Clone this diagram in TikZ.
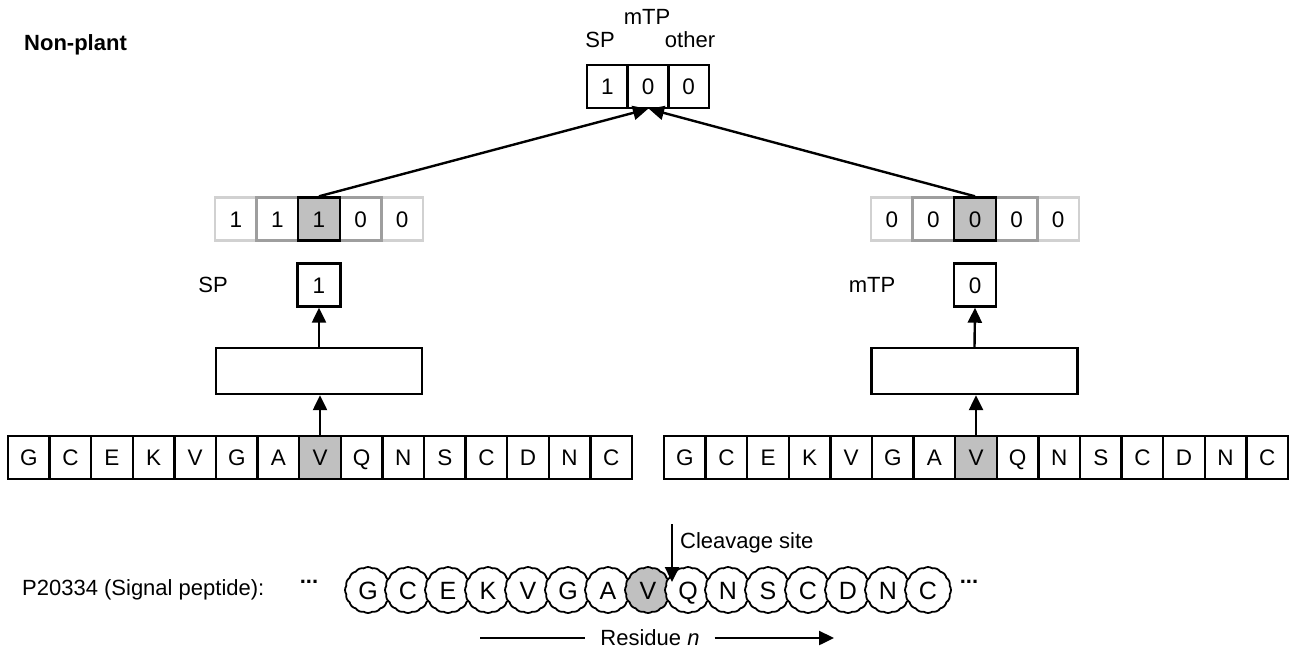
\documentclass[tikz,border=0pt]{standalone}
\usepackage{fontspec}
\setmainfont{Liberation Sans}
\usetikzlibrary{arrows.meta,shapes.geometric,shapes.symbols}
\definecolor{hl}{RGB}{192,192,192}
\begin{document}
\begin{tikzpicture}[x=1pt,y=-1pt,
  txt/.style={font=\fontsize{22}{26}\selectfont, inner sep=0pt},
  cell/.style={draw, line width=2.4pt, minimum width=41.6pt, minimum height=43pt, inner sep=0pt, font=\fontsize{22.5}{26}\selectfont, text height=16pt, text depth=0pt, fill=white},
  wide/.style={draw, line width=2.4pt, minimum width=206pt, minimum height=46pt, inner sep=0pt, fill=white},
  res/.style={draw, line width=1.8pt, cloud, cloud puffs=16, cloud puff arc=70, aspect=1, minimum width=46pt, minimum height=46pt, inner sep=0pt, font=\fontsize{25}{29}\selectfont, text height=18pt, text depth=0pt, fill=white, line join=round},
  arr/.style={line width=2.4pt, -{Triangle[length=15pt,width=14pt]}},
  lnk/.style={line width=2.4pt, -{Triangle[length=15pt,width=14pt]}, shorten >=-1pt}
]
\useasboundingbox (0,0) rectangle (1289,649);

% title
\node[txt, font=\fontsize{22}{26}\selectfont\bfseries, anchor=west] (title) at (24,45) {Non-plant};

% top box
\node[txt] (lsp) at (600,40) {SP};
\node[txt] (lmtp) at (647,17) {mTP};
\node[txt] (loth) at (690,40) {other};
\node[cell, minimum width=40.7pt] (t1) at (607.3,86.5) {1};
\node[cell, minimum width=40.7pt] (t2) at (648,86.5) {0};
\node[cell, minimum width=40.7pt] (t3) at (688.7,86.5) {0};

% middle rows (left)
\node[cell, draw=black!18] (lm1) at (235.8,219) {1};
\node[cell, draw=black!18] (lm5) at (402.2,219) {0};
\node[cell, draw=black!38] (lm2) at (277.4,219) {1};
\node[cell, draw=black!38] (lm4) at (360.6,219) {0};
\node[cell, fill=hl] (lm3) at (319,219) {1};
% middle rows (right)
\node[cell, draw=black!18] (rm1) at (891.8,219) {0};
\node[cell, draw=black!18] (rm5) at (1058.2,219) {0};
\node[cell, draw=black!38] (rm2) at (933.4,219) {0};
\node[cell, draw=black!38] (rm4) at (1016.6,219) {0};
\node[cell, fill=hl] (rm3) at (975,219) {0};

% single outputs
\node[txt] (spl) at (213,285) {SP};
\node[cell, minimum width=43pt, minimum height=43pt] (lo) at (319,285) {1};
\node[txt] (mtpl) at (872,285) {mTP};
\node[cell, minimum width=42pt, minimum height=43pt] (ro) at (975,285) {0};

% wide boxes
\node[wide] (lb) at (319,371) {};
\node[wide] (rb) at (974.5,371) {};

% sequences
\foreach \r [count=\i from 0] in {G,C,E,K,V,G,A,V,Q,N,S,C,D,N,C} {
  \ifnum\i=7 \def\f{hl}\else\def\f{white}\fi
  \node[cell, fill=\f] (ls\i) at (28.8+41.6*\i,457.5) {\r};
  \node[cell, fill=\f] (rs\i) at (684.8+41.6*\i,457.5) {\r};
}

% arrows
\draw[arr] (ls7.north) -- (ls7.north |- lb.south);
\draw[arr] (lb.north) -- (lo.south);
\draw[arr] (rs7.north) -- (rs7.north |- rb.south);
\draw[arr] (rb.north) -- (ro.south);
\draw[lnk] (lm3.north) -- ([xshift=-1pt]t2.south);
\draw[lnk] (rm3.north) -- ([xshift=2pt]t2.south);

% bottom peptide
\node[txt, anchor=west] (pl) at (22,590) {P20334 (Signal peptide):};
\node[txt, font=\fontsize{22}{26}\selectfont\bfseries] (dl) at (309,582) {...};
\foreach \r [count=\i from 0] in {G,C,E,K,V,G,A,V,Q,N,S,C,D,N,C} {
  \ifnum\i=7 \def\f{hl}\else\def\f{white}\fi
  \node[res, fill=\f] (c\i) at (368+40*\i,590) {\r};
}
\node[txt, font=\fontsize{22}{26}\selectfont\bfseries] (dr) at (969,582) {...};

% cleavage
\coordinate (cs) at (672,524);
\coordinate (ce) at (672,582);
\draw[arr] (cs) -- (ce);
\node[txt, anchor=west] (cl) at (680,543) {Cleavage site};

% residue n
\node[txt] (rn) at (650,638) {Residue \textit{n}};
\coordinate (r1) at (480,638);
\coordinate (r2) at (834,638);
\draw[line width=2.4pt] (r1) -- ([xshift=-15pt]rn.west);
\draw[arr] ([xshift=15pt]rn.east) -- (r2);
\end{tikzpicture}
\end{document}
